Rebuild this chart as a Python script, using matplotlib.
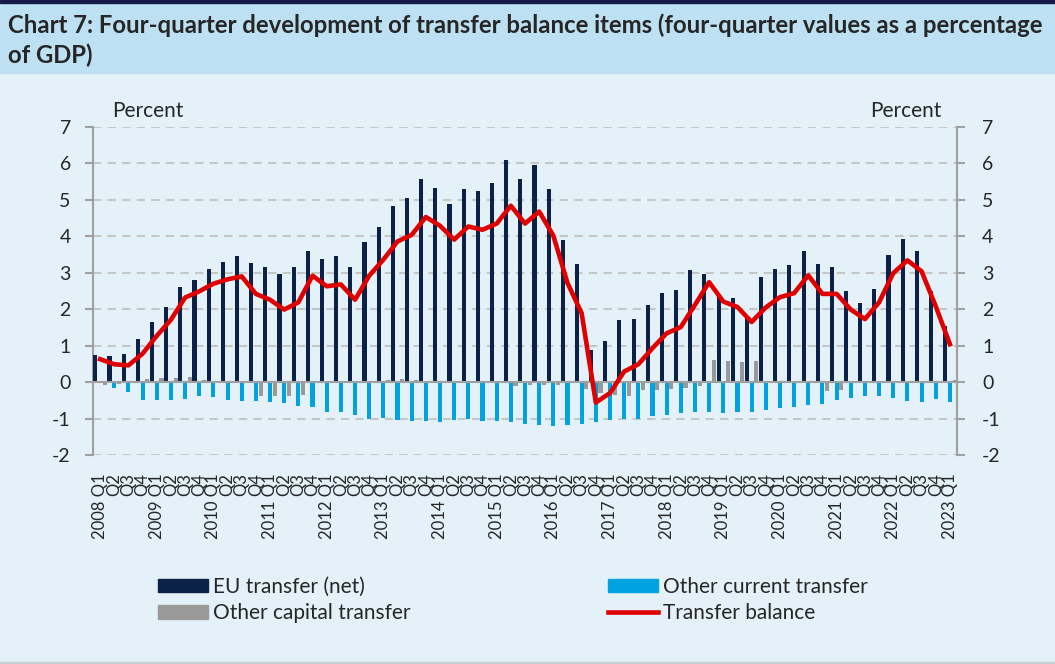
import numpy as np
import matplotlib.pyplot as plt
from matplotlib.patches import Rectangle, Patch
from matplotlib.lines import Line2D

plt.rcParams['font.family'] = ['Lato', 'DejaVu Sans']
plt.rcParams['axes.unicode_minus'] = False

# four-quarter values, percent of GDP, 2008 Q1 .. 2023 Q1
eu_transfer = [0.75, 0.73, 0.77, 1.18, 1.66, 2.07, 2.62, 2.80, 3.09, 3.29, 3.45, 3.27,
               3.15, 2.96, 3.17, 3.59, 3.39, 3.46, 3.15, 3.84, 4.26, 4.84, 5.05, 5.58,
               5.32, 4.90, 5.31, 5.24, 5.46, 6.09, 5.58, 5.97, 5.31, 3.89, 3.24, 0.87,
               1.12, 1.71, 1.73, 2.11, 2.45, 2.53, 3.07, 2.96, 2.40, 2.30, 1.80, 2.89,
               3.11, 3.21, 3.61, 3.25, 3.16, 2.49, 2.18, 2.56, 3.49, 3.93, 3.60, 2.49,
               1.54]
other_current = [-0.03, -0.16, -0.28, -0.48, -0.50, -0.48, -0.45, -0.38, -0.42, -0.49, -0.51, -0.53,
                 -0.55, -0.58, -0.65, -0.69, -0.83, -0.83, -0.91, -1.01, -0.99, -1.05, -1.08, -1.08,
                 -1.10, -1.05, -1.02, -1.06, -1.07, -1.10, -1.15, -1.19, -1.20, -1.19, -1.15, -1.10,
                 -1.03, -1.02, -1.00, -0.94, -0.90, -0.85, -0.81, -0.83, -0.85, -0.82, -0.81, -0.76,
                 -0.72, -0.69, -0.63, -0.60, -0.50, -0.44, -0.39, -0.37, -0.44, -0.51, -0.54, -0.47,
                 -0.55]
other_capital = [-0.09, -0.05, 0.00, 0.08, 0.10, 0.10, 0.15, 0.05, 0.02, 0.02, 0.02, -0.37,
                 -0.38, -0.37, -0.35, 0.00, 0.03, 0.03, 0.03, 0.04, 0.06, 0.08, 0.06, 0.02,
                 0.02, 0.02, 0.01, 0.01, 0.01, -0.12, -0.09, -0.09, -0.07, 0.00, -0.19, -0.30,
                 -0.35, -0.38, -0.21, -0.21, -0.18, -0.15, -0.12, 0.61, 0.58, 0.56, 0.59, -0.02,
                 -0.03, -0.03, -0.03, -0.25, -0.22, -0.02, -0.02, -0.02, -0.01, -0.01, 0.00, 0.00,
                 0.05]
transfer_balance = [0.63, 0.49, 0.46, 0.78, 1.27, 1.71, 2.32, 2.49, 2.70, 2.82, 2.90, 2.42,
                    2.26, 1.99, 2.19, 2.92, 2.63, 2.68, 2.26, 2.92, 3.36, 3.86, 4.04, 4.53,
                    4.29, 3.91, 4.27, 4.18, 4.35, 4.84, 4.35, 4.68, 4.02, 2.72, 1.89, -0.56,
                    -0.30, 0.29, 0.49, 0.93, 1.34, 1.51, 2.12, 2.74, 2.21, 2.06, 1.65, 2.05,
                    2.33, 2.44, 2.93, 2.42, 2.42, 1.99, 1.73, 2.19, 2.99, 3.34, 3.04, 2.08,
                    1.04]

quarter_labels = []
for i in range(len(eu_transfer)):
    q = i % 4 + 1
    if q == 1:
        quarter_labels.append(f"{2008 + i // 4} Q1")
    else:
        quarter_labels.append(f"Q{q}")

NAVY = '#0c2148'
BLUE = '#00a3e0'
GREY = '#999999'
RED = '#e00000'
TXT = '#262626'
AXC = '#a0a0a0'
W, H = 1055, 664

fig = plt.figure(figsize=(W / 100, H / 100), dpi=100, facecolor='#e4f1f8')

# header band
fig.patches.append(Rectangle((0, 1 - 73 / H), 1, 70 / H, transform=fig.transFigure,
                             color='#bde0f3', zorder=0))
fig.patches.append(Rectangle((0, 1 - 3 / H), 1, 3 / H, transform=fig.transFigure,
                             color='#14194a', zorder=0))
fig.patches.append(Rectangle((0, 0), 1, 2 / H, transform=fig.transFigure,
                             color='#c8cdd2', zorder=0))

line1 = "Chart 7: Four-quarter development of transfer balance items (four-quarter values as a percentage"
t1 = fig.text(8 / W, 1 - 33 / H, line1, fontsize=16, weight='bold', color=TXT, va='baseline')
fig.canvas.draw()
fs = 16 * 1037 / t1.get_window_extent().width
t1.set_fontsize(fs)
fig.text(8 / W, 1 - 63 / H, "of GDP)", fontsize=fs, weight='bold', color=TXT, va='baseline')

ax = fig.add_axes([93 / W, 1 - 455 / H, 864 / W, 328 / H])
ax.set_facecolor('none')

x = np.arange(len(eu_transfer))
off = 0.333
bw = 0.29
ax.bar(x - off, eu_transfer, bw, color=NAVY, zorder=3)
ax.bar(x, other_current, bw, color=BLUE, zorder=3)
ax.bar(x + off, other_capital, bw, color=GREY, zorder=3)
ax.plot(x, transfer_balance, color=RED, lw=3.3, zorder=5, solid_joinstyle='round')

ax.set_xlim(-0.5, len(x) - 0.5)
ax.set_ylim(-2, 7)
ax.set_yticks(range(-2, 8))
for yv in range(-2, 8):
    if yv != 0:
        ax.axhline(yv, color='#c6c6c6', lw=1.5, dashes=(4, 3), zorder=1)
ax.axhline(0, color=AXC, lw=1.5, zorder=4)

for s in ['top', 'bottom']:
    ax.spines[s].set_visible(False)
for s in ['left', 'right']:
    ax.spines[s].set_color(AXC)
    ax.spines[s].set_linewidth(1.5)

ax.set_xticks(x)
ax.set_xticklabels(quarter_labels, rotation=90, fontsize=12, color=TXT)
ax.tick_params(axis='x', length=0, pad=13)
ax.tick_params(axis='y', length=6, width=1.5, color=AXC, labelsize=14,
               labelcolor=TXT, pad=10)

ax2 = ax.twinx()
ax2.set_ylim(-2, 7)
ax2.set_yticks(range(-2, 8))
for s in ['top', 'bottom', 'left']:
    ax2.spines[s].set_visible(False)
ax2.spines['right'].set_color(AXC)
ax2.spines['right'].set_linewidth(1.5)
ax2.tick_params(axis='y', length=6, width=1.5, color=AXC, labelsize=14,
                labelcolor=TXT, pad=12)

fig.text(112 / W, 1 - 111 / H, "Percent", fontsize=15, color=TXT, va='center')
fig.text(942 / W, 1 - 111 / H, "Percent", fontsize=15, color=TXT, va='center', ha='right')

h_eu = Patch(color=NAVY, label='EU transfer (net)')
h_cap = Patch(color=GREY, label='Other capital transfer')
h_cur = Patch(color=BLUE, label='Other current transfer')
h_bal = Line2D([], [], color=RED, lw=3.3, label='Transfer balance')

leg_kw = dict(loc='upper left', frameon=False, fontsize=15, handlelength=2.4,
              handleheight=0.6, handletextpad=0.25, labelspacing=0.3, borderpad=0,
              borderaxespad=0, labelcolor=TXT)
fig.legend(handles=[h_eu, h_cap], bbox_to_anchor=(158 / W, 1 - 577 / H), **leg_kw)
fig.legend(handles=[h_cur, h_bal], bbox_to_anchor=(608 / W, 1 - 577 / H), **leg_kw)

fig.savefig('out.png', dpi=100, facecolor=fig.get_facecolor())
